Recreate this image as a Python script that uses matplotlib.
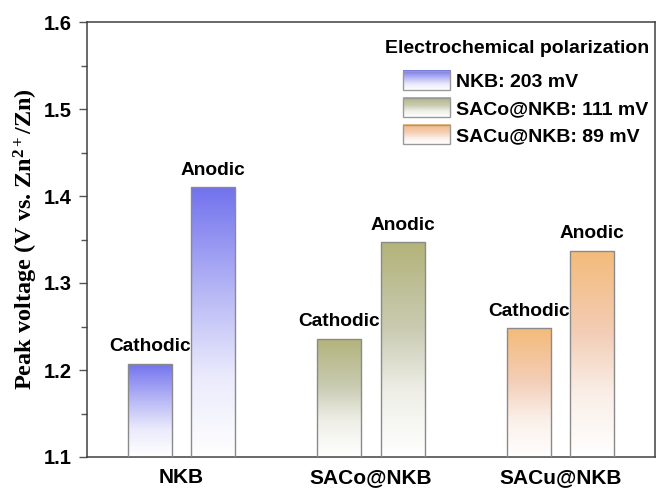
import numpy as np
import matplotlib
matplotlib.use("Agg")
import matplotlib.pyplot as plt
from matplotlib.colors import LinearSegmentedColormap
from matplotlib.image import BboxImage
from matplotlib.transforms import Bbox, TransformedBbox
from matplotlib.patches import Rectangle
from matplotlib.legend_handler import HandlerBase
from matplotlib.ticker import MultipleLocator

# ---- data ----
materials = ["NKB", "SACo@NKB", "SACu@NKB"]
cathodic = [1.207, 1.236, 1.248]   # V vs. Zn2+/Zn
anodic = [1.410, 1.347, 1.337]     # V vs. Zn2+/Zn
peak_names = ["Cathodic", "Anodic"]
y_ticks = [1.1, 1.2, 1.3, 1.4, 1.5, 1.6]

# gradient stops (bottom -> top) for each material
grad_stops = {
    "NKB": ["#ffffff", "#eaeafc", "#b9b9f6", "#7272ee"],
    "SACo@NKB": ["#ffffff", "#efefe8", "#c9cbb2", "#b3b37a"],
    "SACu@NKB": ["#ffffff", "#faefe8", "#f3cdb6", "#f4bb7a"],
}

plt.rcParams["font.family"] = ["Liberation Sans", "DejaVu Sans"]
plt.rcParams["font.weight"] = "bold"
plt.rcParams["mathtext.fontset"] = "custom"
plt.rcParams["mathtext.rm"] = "Liberation Serif:bold"
plt.rcParams["mathtext.it"] = "Liberation Serif:bold:italic"
plt.rcParams["mathtext.bf"] = "Liberation Serif:bold"

cmaps = {
    m: LinearSegmentedColormap.from_list(m, list(zip([0.0, 0.3, 0.6, 1.0], stops)))
    for m, stops in grad_stops.items()
}
grad = np.linspace(0, 1, 256).reshape(-1, 1)

fig = plt.figure(figsize=(6.56, 4.97), dpi=100)
ax = fig.add_axes([87 / 656, 40 / 497, 568 / 656, 435 / 497])

ymin, ymax = y_ticks[0], y_ticks[-1]
x = np.arange(len(materials))
width = 0.233
offset = 0.167

for i, m in enumerate(materials):
    for val, dx, name in zip((cathodic[i], anodic[i]), (-offset, offset), peak_names):
        bars = ax.bar(x[i] + dx, val - ymin, width, bottom=ymin,
                      facecolor="none", edgecolor="#8a8a8a", linewidth=1.0, zorder=3)
        bar = bars[0]
        x0, y0 = bar.get_x(), bar.get_y()
        im = ax.imshow(grad, cmap=cmaps[m], origin="lower", aspect="auto",
                       extent=[x0, x0 + bar.get_width(), y0, y0 + bar.get_height()],
                       interpolation="bicubic", zorder=2)
        im.set_clip_path(bar)
        ax.annotate(name, (x[i] + dx, val), xytext=(0, 9), textcoords="offset points",
                    ha="center", va="baseline", fontsize=13.8, fontweight="bold")

ax.set_xlim(-0.5, 2.5)
ax.set_ylim(ymin, ymax)
ax.set_xticks(x)
ax.set_xticklabels(materials, fontsize=15, fontweight="bold")
ax.set_yticks(y_ticks)
ax.yaxis.set_minor_locator(MultipleLocator(0.05))
ax.tick_params(axis="x", length=0, pad=8)
ax.tick_params(axis="y", which="major", direction="out", length=6, width=1,
               labelsize=14.5, pad=5, color="#555555")
ax.tick_params(axis="y", which="minor", direction="out", length=4, width=1, color="#555555")
for lab in ax.get_yticklabels():
    lab.set_fontweight("bold")
for s in ax.spines.values():
    s.set_color("#404040")
    s.set_linewidth(1.1)

ax.set_ylabel(r"Peak voltage (V vs. Zn$^{2+}$/Zn)", family="Liberation Serif",
              fontweight="bold", fontsize=17.5, labelpad=3)


class GradientHandler(HandlerBase):
    def __init__(self, cmap):
        super().__init__()
        self.cmap = cmap

    def create_artists(self, legend, orig_handle, xdescent, ydescent,
                       width, height, fontsize, trans):
        bb = Bbox.from_bounds(-xdescent, -ydescent, width, height)
        img = BboxImage(TransformedBbox(bb, trans), cmap=self.cmap,
                        interpolation="bicubic", origin="lower")
        img.set_data(grad)
        edge = Rectangle((-xdescent, -ydescent), width, height,
                         facecolor="none", edgecolor="#9a9a9a", linewidth=1.0,
                         transform=trans)
        return [img, edge]


# legend heading
ax.text(0.989, 0.9287, "Electrochemical polarization", transform=ax.transAxes,
        ha="right", va="baseline", fontsize=14, fontweight="bold")

handles = [Rectangle((0, 0), 1, 1) for _ in materials]
labels = [f"{m}: {round((a - c) * 1000):d} mV" for m, c, a in zip(materials, cathodic, anodic)]
leg = ax.legend(handles, labels,
                handler_map={h: GradientHandler(cmaps[m]) for h, m in zip(handles, materials)},
                loc="upper left", bbox_to_anchor=(0.556, 0.888), frameon=False,
                prop={"size": 14, "weight": "bold"},
                handlelength=2.45, handleheight=1.13, handletextpad=0.3,
                labelspacing=0.36, borderpad=0, borderaxespad=0)

fig.savefig("out.png", dpi=100, facecolor="white")
